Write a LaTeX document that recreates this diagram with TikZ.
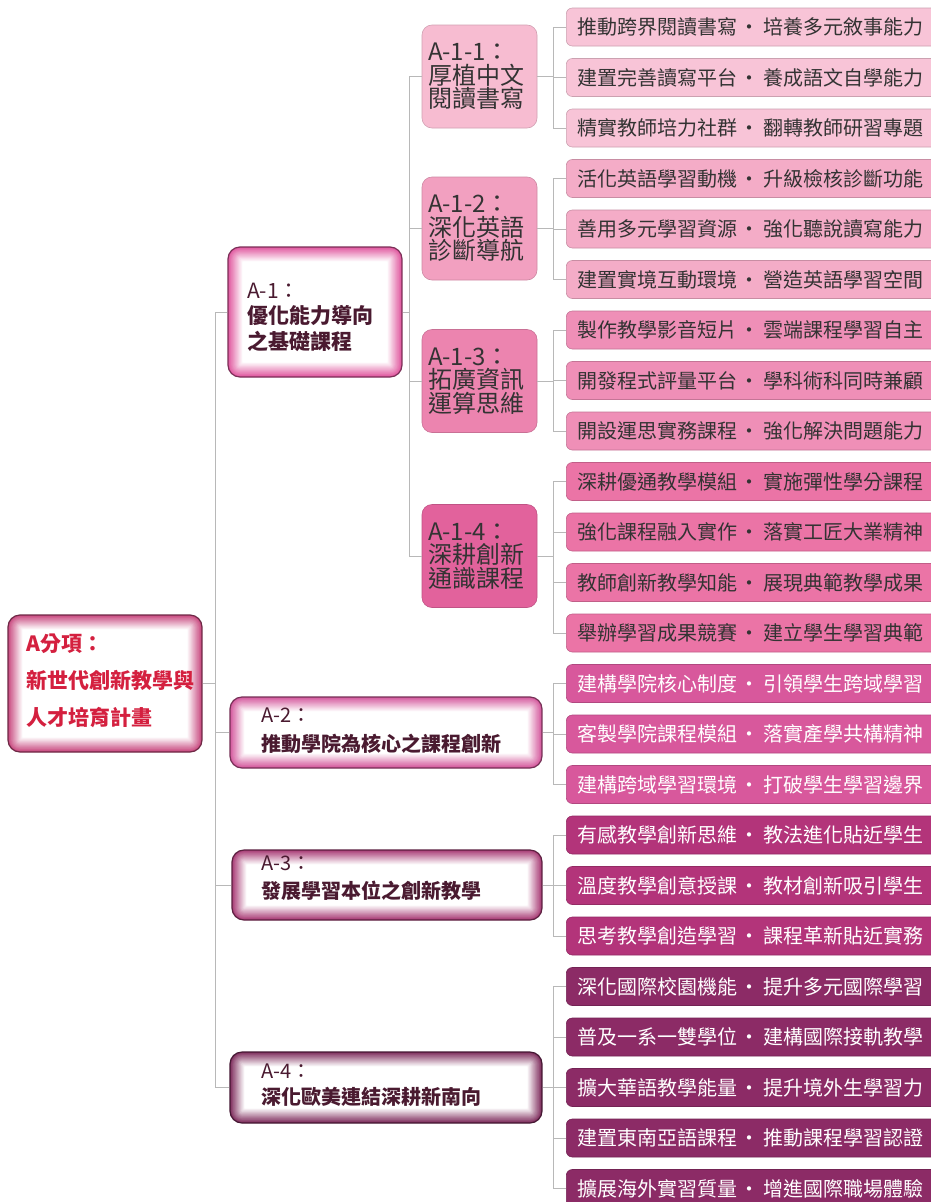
\documentclass[tikz,border=0pt]{standalone}
\usepackage{fontspec}
\setmainfont{Noto Sans CJK TC}
\usetikzlibrary{calc}
\definecolor{leafA}{HTML}{F8C4D7}
\definecolor{leafB}{HTML}{F4ACC7}
\definecolor{leafC}{HTML}{EF8FB7}
\definecolor{leafD}{HTML}{EB74A6}
\definecolor{leafE}{HTML}{D8589C}
\definecolor{leafF}{HTML}{B3347A}
\definecolor{leafG}{HTML}{8C2B66}
\definecolor{subA}{HTML}{F7BCD1}
\definecolor{subB}{HTML}{F2A0C0}
\definecolor{subC}{HTML}{EC84AF}
\definecolor{subD}{HTML}{E2629C}
\definecolor{glR}{HTML}{C8487E}
\definecolor{glA}{HTML}{E0569E}
\definecolor{glB}{HTML}{D4579C}
\definecolor{glC}{HTML}{A83A74}
\definecolor{glD}{HTML}{7E2C5C}
\definecolor{tdark}{HTML}{4A1A30}
\definecolor{tgray}{HTML}{333333}
\definecolor{rootred}{HTML}{D4203F}
\newcommand\lsep{\hspace{0.1em}·\hspace{0.2em}}
\begin{document}
\begin{tikzpicture}[x=1pt,y=-1pt,
  conn/.style={draw=black!28, line width=1pt},
  leafbox/.style={anchor=west, minimum width=390, minimum height=38, inner xsep=11, inner ysep=0,
    rounded corners=6pt, text width=368, align=left, font=\fontsize{20}{24}\selectfont,
    fill=#1, draw=#1!82!black, line width=0.6pt},
  subbox/.style={minimum width=115, minimum height=103, text width=103, inner xsep=6, inner ysep=0,
    rounded corners=10pt, align=left, font=\fontsize{24}{23.5}\selectfont, text=tgray,
    draw=#1!85!black, line width=0.6pt, fill=#1},
  glow/.style={draw=#1!55!black, line width=1.2pt, rounded corners=12pt, inner sep=0pt,
    path picture={
      \foreach \i in {0,...,18}{
        \pgfmathtruncatemacro\pc{100-\i*100/18}
        \pgfmathsetmacro\rr{max(12-\i*0.8,1)}
        \pgfmathsetmacro\dd{\i*0.8}
        \fill[#1!\pc!white, rounded corners=\rr pt]
          ([shift={(\dd pt,\dd pt)}]path picture bounding box.south west) rectangle
          ([shift={(-\dd pt,-\dd pt)}]path picture bounding box.north east);
      }}},
  gtext/.style={anchor=west, align=left, inner sep=0pt, text=tdark}
]
\useasboundingbox (0,0) rectangle (931,1202);
\fill[white] (0,0) rectangle (931,1202);
\clip (0,0) rectangle (931,1202);

% spine coordinates
\coordinate (sp0) at (215,0);
\coordinate (sp1) at (409,0);
\coordinate (sp2) at (553,0);

% root
\node[glow=glR, minimum width=194, minimum height=137] (root) at (105,683.5) {};
\node[gtext, text=rootred, font=\fontsize{21}{37}\selectfont\bfseries] (roott) at (26,681)
  {A分項：\\新世代創新教學與\\人才培育計畫};

% level 1
\node[glow=glA, minimum width=174, minimum height=130] (a1) at (315,312) {};
\node[gtext, font=\fontsize{21}{25.5}\selectfont] (a1t) at (247,317)
  {A-1：\\\textbf{優化能力導向}\\\textbf{之基礎課程}};
\node[glow=glB, minimum width=312, minimum height=71] (a2) at (386,732.5) {};
\node[gtext, font=\fontsize{20}{29}\selectfont] (a2t) at (261,731)
  {A-2：\\\textbf{推動學院為核心之課程創新}};
\node[glow=glC, minimum width=310, minimum height=70] (a3) at (387,885) {};
\node[gtext, font=\fontsize{20}{28}\selectfont] (a3t) at (261,878)
  {A-3：\\\textbf{發展學習本位之創新教學}};
\node[glow=glD, minimum width=312, minimum height=71] (a4) at (386,1087.5) {};
\node[gtext, font=\fontsize{20}{26}\selectfont] (a4t) at (261,1085)
  {A-4：\\\textbf{深化歐美連結深耕新南向}};

% level 2 (A-1 sub)
\node[subbox=subA] (a11) at (479.5,76.5) {A-1-1：\\厚植中文\\閱讀書寫};
\node[subbox=subB] (a12) at (479.5,228.5) {A-1-2：\\深化英語\\診斷導航};
\node[subbox=subC] (a13) at (479.5,381) {A-1-3：\\拓廣資訊\\運算思維};
\node[subbox=subD] (a14) at (479.5,556) {A-1-4：\\深耕創新\\通識課程};

% connectors root -> level1
\foreach \n in {a1,a2,a3,a4}
  \draw[conn] (\n.west) -- (\n.west -| sp0) |- (root.east);
% A-1 -> subs
\foreach \n in {a11,a12,a13,a14}
  \draw[conn] (\n.west) -- (\n.west -| sp1) |- (a1.east);

% leaves
\foreach \k/\fc/\tc/\p/\txt in {
 1/leafA/tgray/a11/推動跨界閱讀書寫\lsep 培養多元敘事能力,
 2/leafA/tgray/a11/建置完善讀寫平台\lsep 養成語文自學能力,
 3/leafA/tgray/a11/精實教師培力社群\lsep 翻轉教師研習專題,
 4/leafB/tgray/a12/活化英語學習動機\lsep 升級檢核診斷功能,
 5/leafB/tgray/a12/善用多元學習資源\lsep 強化聽說讀寫能力,
 6/leafB/tgray/a12/建置實境互動環境\lsep 營造英語學習空間,
 7/leafC/tgray/a13/製作教學影音短片\lsep 雲端課程學習自主,
 8/leafC/tgray/a13/開發程式評量平台\lsep 學科術科同時兼顧,
 9/leafC/tgray/a13/開設運思實務課程\lsep 強化解決問題能力,
 10/leafD/tgray/a14/深耕優通教學模組\lsep 實施彈性學分課程,
 11/leafD/tgray/a14/強化課程融入實作\lsep 落實工匠大業精神,
 12/leafD/tgray/a14/教師創新教學知能\lsep 展現典範教學成果,
 13/leafD/tgray/a14/舉辦學習成果競賽\lsep 建立學生學習典範,
 14/leafE/white/a2/建構學院核心制度\lsep 引領學生跨域學習,
 15/leafE/white/a2/客製學院課程模組\lsep 落實產學共構精神,
 16/leafE/white/a2/建構跨域學習環境\lsep 打破學生學習邊界,
 17/leafF/white/a3/有感教學創新思維\lsep 教法進化貼近學生,
 18/leafF/white/a3/溫度教學創意授課\lsep 教材創新吸引學生,
 19/leafF/white/a3/思考教學創造學習\lsep 課程革新貼近實務,
 20/leafG/white/a4/深化國際校園機能\lsep 提升多元國際學習,
 21/leafG/white/a4/普及一系一雙學位\lsep 建構國際接軌教學,
 22/leafG/white/a4/擴大華語教學能量\lsep 提升境外生學習力,
 23/leafG/white/a4/建置東南亞語課程\lsep 推動課程學習認證,
 24/leafG/white/a4/擴展海外實習質量\lsep 增進國際職場體驗}{
  \pgfmathsetmacro\yy{27+(\k-1)*50.5}
  \node[leafbox=\fc, text=\tc] (l\k) at (566,\yy) {\txt};
  \draw[conn] (l\k.west) -- (l\k.west -| sp2) |- (\p.east);
}
\end{tikzpicture}
\end{document}
